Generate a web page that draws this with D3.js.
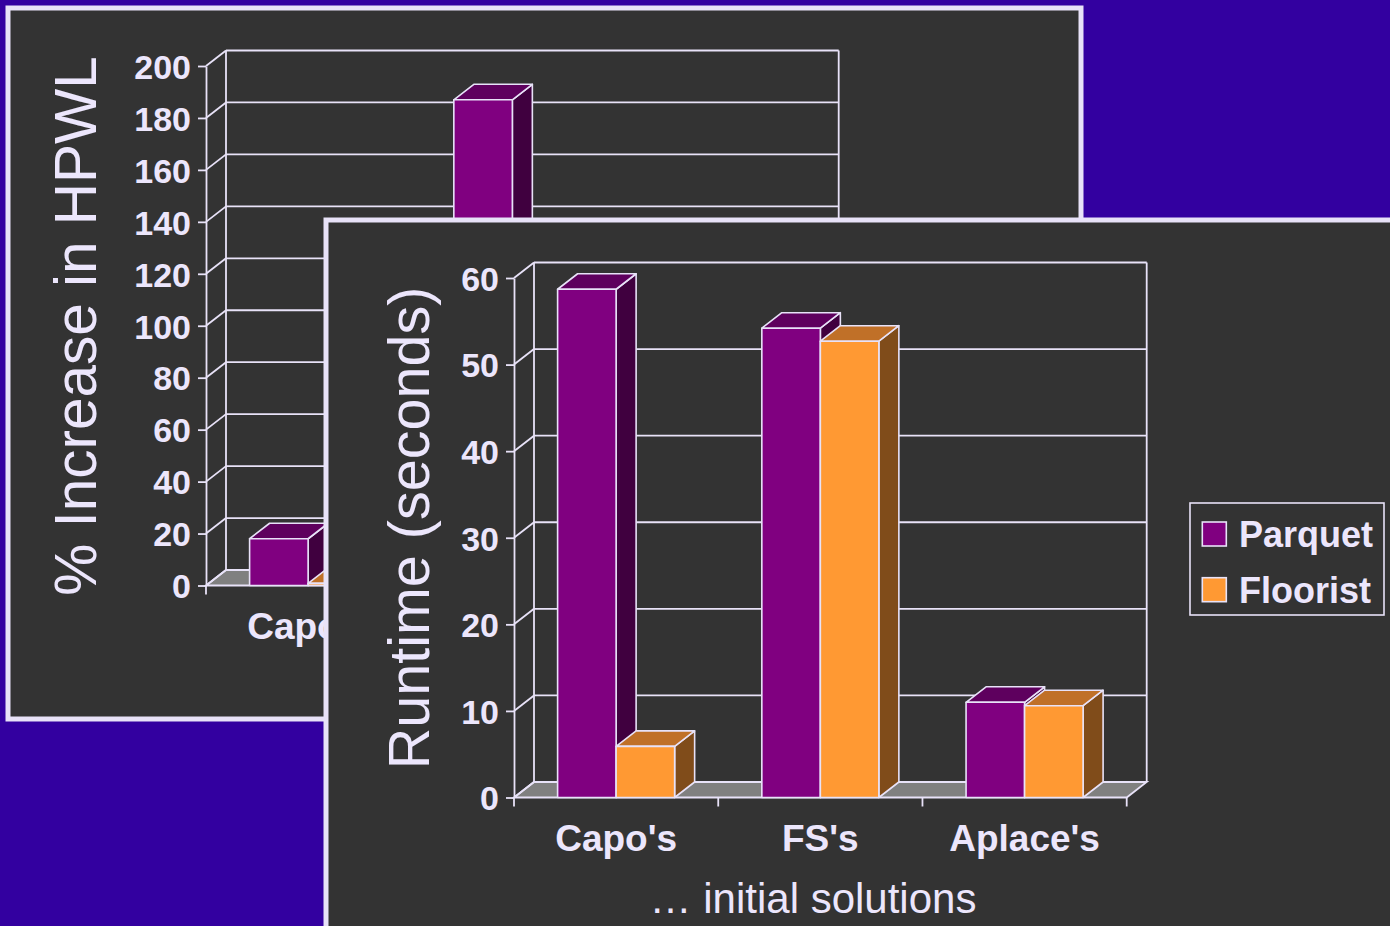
<!DOCTYPE html>
<html>
<head>
<meta charset="utf-8">
<script src="https://cdn.jsdelivr.net/npm/d3@7"></script>
<style>
  html, body { margin: 0; padding: 0; background: #3300a0; }
  svg { display: block; }
  text { font-family: "Liberation Sans", Arial, sans-serif; fill: #ece6fc; }
</style>
</head>
<body>
<svg id="slide" width="1390" height="926"></svg>
<script>
// Categories and series shared by both charts
const categories = ["Capo's", "FS's", "Aplace's"];
const series = ["Parquet", "Floorist"];

// Runtime chart (front slide), seconds
const runtimeParquet = [58.7, 54.2, 11.0];
const runtimeFloorist = [5.9, 52.7, 10.6];
const runtimeTicks = [0, 10, 20, 30, 40, 50, 60];

// HPWL chart (back slide), % increase; null where the value is not shown
const hpwlParquet = [18.0, 187.0, null];
const hpwlFloorist = [0.8, null, null];
const hpwlTicks = [0, 20, 40, 60, 80, 100, 120, 140, 160, 180, 200];

const LINE = "#e8e2f8";
const PANEL = "#333333";
const colors = {
  Parquet:  { front: "#800080", top: "#5e005e", side: "#40003f" },
  Floorist: { front: "#ff9933", top: "#c07028", side: "#804c1a" }
};

// front slide outline, used to skip back-slide labels it hides completely
const frontSlide = { x: 326, y: 220, w: 1100, h: 800 };

const svg = d3.select("#slide");

function drawPanel(r) {
  svg.append("rect")
    .attr("x", r.x).attr("y", r.y).attr("width", r.w).attr("height", r.h)
    .attr("fill", PANEL).attr("stroke", LINE).attr("stroke-width", 5);
}

function drawChart(cfg) {
  const W = 612.7, H = 519.5, dx = 20, dy = -15.5;
  const g = svg.append("g").attr("transform", `translate(${cfg.ox},${cfg.oy})`);

  const y = d3.scaleLinear().domain([0, cfg.ticks[cfg.ticks.length - 1]]).range([H, 0]);
  const x = d3.scaleBand().domain(categories).range([0, W]);
  const xs = d3.scaleBand().domain(series).range([0, x.bandwidth()]).paddingOuter(0.745);

  // floor
  g.append("polygon")
    .attr("points", [[0, H], [W, H], [W + dx, H + dy], [dx, H + dy]].join(" "))
    .attr("fill", "#808080").attr("stroke", LINE).attr("stroke-width", 1.8);

  // back wall frame and gridlines
  const walls = g.append("g").attr("stroke", LINE).attr("stroke-width", 1.8).attr("fill", "none");
  walls.append("line").attr("x1", dx).attr("x2", dx).attr("y1", dy).attr("y2", H + dy);
  walls.append("line").attr("x1", W + dx).attr("x2", W + dx).attr("y1", dy).attr("y2", H + dy);
  cfg.ticks.forEach(t => {
    walls.append("line").attr("x1", dx).attr("x2", W + dx)
      .attr("y1", y(t) + dy).attr("y2", y(t) + dy);
    walls.append("line").attr("x1", 0).attr("x2", dx)
      .attr("y1", y(t)).attr("y2", y(t) + dy);
  });

  // value axis
  const yAxis = d3.axisLeft(y).tickValues(cfg.ticks).tickSize(8).tickSizeOuter(0).tickPadding(7);
  const ya = g.append("g").call(yAxis);
  ya.selectAll("path, line").attr("stroke", LINE).attr("stroke-width", 1.8);
  ya.selectAll("text")
    .style("font-family", '"Liberation Sans", Arial, sans-serif')
    .style("font-size", "34px").style("font-weight", "bold")
    .attr("fill", "#ece6fc").attr("dy", "0.36em");

  // bars
  const rows = categories.map((c, i) => ({ c, vals: [cfg.values[0][i], cfg.values[1][i]] }));
  rows.forEach(r => {
    series.forEach((s, k) => {
      const v = r.vals[k];
      if (v === null) return;
      const x0 = x(r.c) + xs(s), x1 = x0 + xs.bandwidth();
      const yt = y(v), yb = y(0);
      const bar = g.append("g").attr("stroke", LINE).attr("stroke-width", 1.6).attr("stroke-linejoin", "round");
      bar.append("polygon")
        .attr("points", [[x1, yt], [x1 + dx, yt + dy], [x1 + dx, yb + dy], [x1, yb]].join(" "))
        .attr("fill", colors[s].side);
      bar.append("polygon")
        .attr("points", [[x0, yt], [x0 + dx, yt + dy], [x1 + dx, yt + dy], [x1, yt]].join(" "))
        .attr("fill", colors[s].top);
      bar.append("rect")
        .attr("x", x0).attr("y", yt).attr("width", x1 - x0).attr("height", yb - yt)
        .attr("fill", colors[s].front);
    });
  });

  // category boundary ticks
  const edges = categories.map(c => x(c)).concat([W]);
  g.append("g").selectAll("line").data(edges).join("line")
    .attr("x1", d => d).attr("x2", d => d).attr("y1", H).attr("y2", H + 9)
    .attr("stroke", LINE).attr("stroke-width", 1.8);

  // category labels
  const xAxis = d3.axisBottom(x).tickSize(0).tickPadding(0);
  const xa = g.append("g").attr("transform", `translate(0,${H})`).call(xAxis);
  xa.select(".domain").remove();
  xa.selectAll("text")
    .style("font-family", '"Liberation Sans", Arial, sans-serif')
    .style("font-size", "37px").style("font-weight", "bold")
    .attr("fill", "#ece6fc").attr("y", 53.5).attr("dy", 0);
  if (cfg.hiddenBy) {
    // drop labels that sit entirely under the slide in front
    const r = cfg.hiddenBy;
    xa.selectAll(".tick").each(function (c) {
      const left = cfg.ox + x(c) + x.bandwidth() / 2 - 70;
      if (left > r.x + 4) d3.select(this).remove();
    });
  }

  // axis titles
  g.append("text")
    .attr("transform", `translate(${cfg.titleX},${cfg.titleY}) rotate(-90)`)
    .attr("text-anchor", "middle")
    .style("font-size", cfg.titleSize + "px")
    .text(cfg.yTitle);
  if (!cfg.showFooter) return;
  g.append("text")
    .attr("x", 299).attr("y", H + 115.5)
    .attr("text-anchor", "middle")
    .style("font-size", "42px")
    .text("\u2026 initial solutions");

  // legend
  const lg = g.append("g").attr("transform", `translate(${W + 63.3},${225})`);
  lg.append("rect").attr("x", 0).attr("y", 0).attr("width", 194).attr("height", 112)
    .attr("fill", "none").attr("stroke", LINE).attr("stroke-width", 1.6);
  series.forEach((s, i) => {
    const row = lg.append("g").attr("transform", `translate(0,${i * 55.7})`);
    row.append("rect").attr("x", 12.3).attr("y", 19).attr("width", 24).attr("height", 24)
      .attr("fill", colors[s].front).attr("stroke", LINE).attr("stroke-width", 1.6);
    row.append("text").attr("x", 49).attr("y", 44)
      .style("font-size", "36px").style("font-weight", "bold")
      .text(s);
  });
}

// back slide: % increase in HPWL (its footer and legend lie under the front slide)
drawPanel({ x: 8, y: 8, w: 1073, h: 711 });
drawChart({
  ox: 206, oy: 66, ticks: hpwlTicks, values: [hpwlParquet, hpwlFloorist],
  yTitle: "% Increase in HPWL", titleX: -110, titleY: 260, titleSize: 58.5,
  showFooter: false, hiddenBy: frontSlide
});

// front slide: runtime
drawPanel(frontSlide);
drawChart({
  ox: 514, oy: 278, ticks: runtimeTicks, values: [runtimeParquet, runtimeFloorist],
  yTitle: "Runtime (seconds)", titleX: -85, titleY: 250, titleSize: 57.5,
  showFooter: true
});
</script>
</body>
</html>
